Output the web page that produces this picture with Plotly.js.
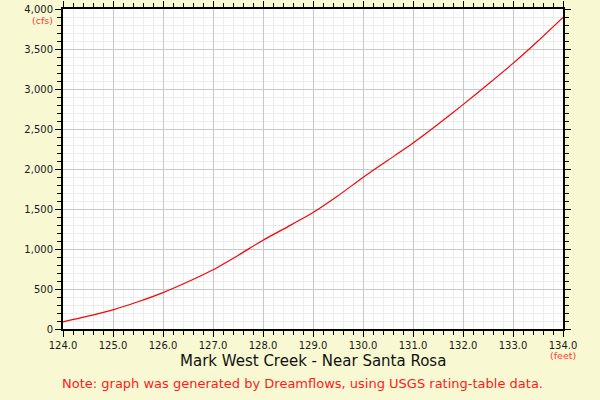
<!DOCTYPE html>
<html>
<head>
<meta charset="utf-8">
<script src="https://cdn.plot.ly/plotly-3.0.1.min.js"></script>
<style>html,body{margin:0;padding:0;background:#f8f8d2;}</style>
</head>
<body>
<div id="chart" style="width:600px;height:400px;"></div>
<script>
var stageFeet = [124.0,124.5,125.0,125.5,126.0,126.5,127.0,127.5,128.0,128.5,129.0,129.5,130.0,130.5,131.0,131.5,132.0,132.5,133.0,133.5,134.0];
var flowCfs   = [90,160,240,340,455,590,740,920,1110,1280,1455,1665,1895,2110,2325,2560,2805,3060,3320,3600,3895];
var titleText = 'Mark West Creek - Near Santa Rosa';
var noteText = 'Note: graph was generated by Dreamflows, using USGS rating-table data.';

var trace = {
  x: stageFeet, y: flowCfs, type: 'scatter', mode: 'lines',
  line: {color: '#ff0000', width: 1.2, shape: 'spline', smoothing: 0.5},
  hoverinfo: 'none'
};
var axisCommon = {
  showline: true, linecolor: '#000', linewidth: 2, mirror: 'ticks',
  ticks: 'outside', ticklen: 6, tickwidth: 1, tickcolor: '#000',
  showgrid: true, gridcolor: '#c8c8c8', gridwidth: 1, zeroline: false,
  tickfont: {family: 'DejaVu Sans', size: 10, color: '#1a1a1a'}
};
var layout = {
  width: 600, height: 400,
  paper_bgcolor: '#f8f8d2', plot_bgcolor: '#ffffff',
  margin: {l: 63, r: 37, t: 9, b: 71},
  showlegend: false,
  xaxis: Object.assign({}, axisCommon, {
    range: [124, 134], dtick: 1, tick0: 124, tickformat: '.1f',
    minor: {dtick: 0.2, ticklen: 4, tickcolor: '#000', showgrid: true, gridcolor: '#ececec', ticks: 'outside'}
  }),
  yaxis: Object.assign({}, axisCommon, {
    range: [0, 4000], dtick: 500, tick0: 0, tickformat: ',d',
    minor: {dtick: 100, ticklen: 4, tickcolor: '#000', showgrid: true, gridcolor: '#ececec', ticks: 'outside'}
  }),
  annotations: [
    {text: titleText, xref: 'paper', yref: 'paper', x: 0.5, y: -0.1, yanchor: 'middle', xanchor: 'center', showarrow: false,
     font: {family: 'DejaVu Sans', size: 15, color: '#111'}},
    {text: noteText, xref: 'paper', yref: 'paper', x: 0.478, y: -0.17, yanchor: 'middle', xanchor: 'center', showarrow: false,
     font: {family: 'DejaVu Sans', size: 13, color: '#ff1a1a'}},
    {text: '(cfs)', xref: 'paper', yref: 'paper', x: 0, xshift: -8, y: 1, yshift: -11, xanchor: 'right', yanchor: 'middle', showarrow: false,
     font: {family: 'DejaVu Sans', size: 9.5, color: '#ff4040'}},
    {text: '(feet)', xref: 'paper', yref: 'paper', x: 1, y: 0, yshift: -26, xanchor: 'center', yanchor: 'middle', showarrow: false,
     font: {family: 'DejaVu Sans', size: 9.5, color: '#ff4040'}}
  ]
};
Plotly.newPlot('chart', [trace], layout, {staticPlot: true, displayModeBar: false});
</script>
</body>
</html>
